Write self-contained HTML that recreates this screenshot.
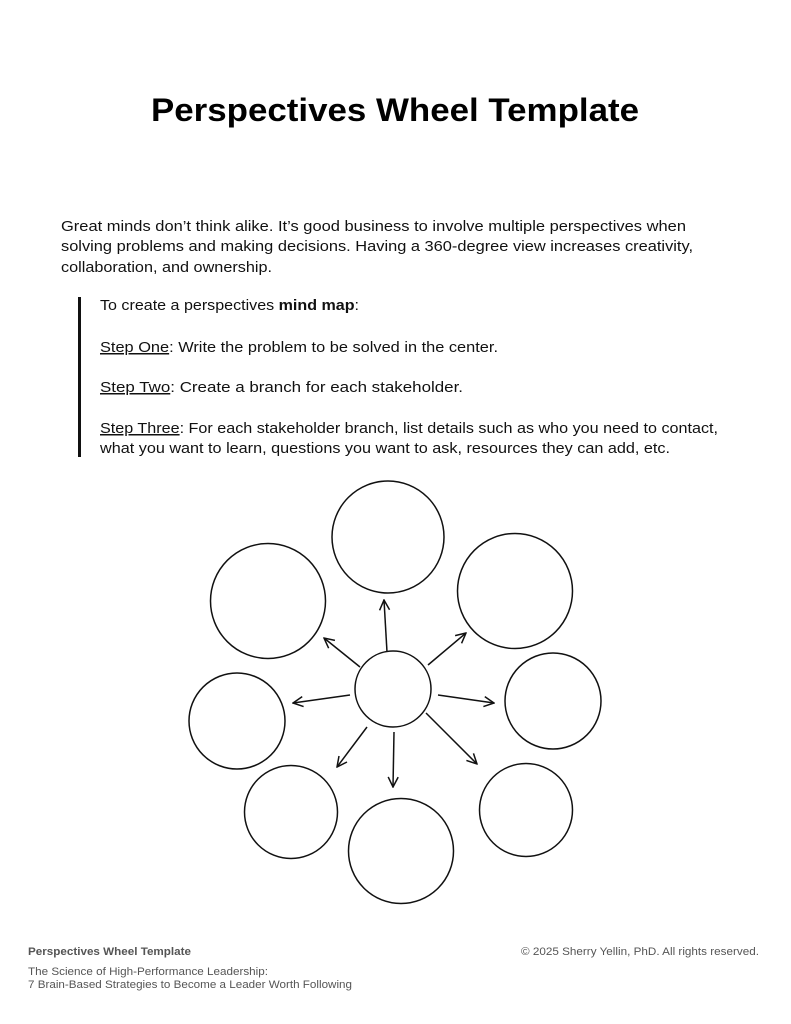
<!DOCTYPE html>
<html><head><meta charset="utf-8"><style>
html,body{margin:0;padding:0;background:#fff}
svg{display:block}
text{font-family:"Liberation Sans",sans-serif}
</style></head><body>
<svg width="791" height="1024" viewBox="0 0 791 1024" xmlns="http://www.w3.org/2000/svg">
<text x="151" y="121" font-size="32" font-weight="bold" textLength="488" lengthAdjust="spacingAndGlyphs">Perspectives Wheel Template</text>
<g font-size="15" fill="#111">
<text x="61" y="231" textLength="625" lengthAdjust="spacingAndGlyphs">Great minds don’t think alike. It’s good business to involve multiple perspectives when</text>
<text x="61" y="251" textLength="632" lengthAdjust="spacingAndGlyphs">solving problems and making decisions.  Having a 360-degree view increases creativity,</text>
<text x="61" y="272" textLength="211" lengthAdjust="spacingAndGlyphs">collaboration, and ownership.</text>
<text x="100" y="310" textLength="259" lengthAdjust="spacingAndGlyphs">To create a perspectives <tspan font-weight="bold">mind map</tspan>:</text>
<text x="100" y="352" textLength="398" lengthAdjust="spacingAndGlyphs"><tspan text-decoration="underline">Step One</tspan>: Write the problem to be solved in the center.</text>
<text x="100" y="392" textLength="363" lengthAdjust="spacingAndGlyphs"><tspan text-decoration="underline">Step Two</tspan>: Create a branch for each stakeholder.</text>
<text x="100" y="433" textLength="618" lengthAdjust="spacingAndGlyphs"><tspan text-decoration="underline">Step Three</tspan>: For each stakeholder branch, list details such as who you need to contact,</text>
<text x="100" y="453" textLength="570" lengthAdjust="spacingAndGlyphs">what you want to learn, questions you want to ask, resources they can add, etc.</text>
</g>
<rect x="78" y="297" width="3" height="160" fill="#111"/>
<g fill="none" stroke="#111" stroke-width="1.5">
<circle cx="388" cy="537" r="56"/>
<circle cx="268" cy="601" r="57.5"/>
<circle cx="515" cy="591" r="57.5"/>
<circle cx="237" cy="721" r="48"/>
<circle cx="553" cy="701" r="48"/>
<circle cx="291" cy="812" r="46.5"/>
<circle cx="401" cy="851" r="52.5"/>
<circle cx="526" cy="810" r="46.5"/>
<circle cx="393" cy="689" r="38"/>
</g>
<defs><marker id="a" viewBox="0 0 12 12" refX="11" refY="6" markerWidth="12" markerHeight="12" markerUnits="userSpaceOnUse" orient="auto"><path d="M1,1 L11,6 L1,11" fill="none" stroke="#111" stroke-width="1.5"/></marker></defs>
<g stroke="#111" stroke-width="1.5" marker-end="url(#a)">
<line x1="387" y1="652" x2="384" y2="600"/>
<line x1="360" y1="667" x2="324" y2="638"/>
<line x1="428" y1="665" x2="466" y2="633"/>
<line x1="350" y1="695" x2="293" y2="703"/>
<line x1="438" y1="695" x2="494" y2="703"/>
<line x1="367" y1="727" x2="337" y2="767"/>
<line x1="394" y1="732" x2="393" y2="787"/>
<line x1="426" y1="713" x2="477" y2="764"/>
</g>
<g font-size="11" fill="#555">
<text x="28" y="955" font-weight="bold" textLength="163" lengthAdjust="spacingAndGlyphs">Perspectives Wheel Template</text>
<text x="521" y="955" textLength="238" lengthAdjust="spacingAndGlyphs">© 2025 Sherry Yellin, PhD. All rights reserved.</text>
<text x="28" y="975" textLength="240" lengthAdjust="spacingAndGlyphs">The Science of High-Performance Leadership:</text>
<text x="28" y="988" textLength="324" lengthAdjust="spacingAndGlyphs">7 Brain-Based Strategies to Become a Leader Worth Following</text>
</g>
</svg>
</body></html>
